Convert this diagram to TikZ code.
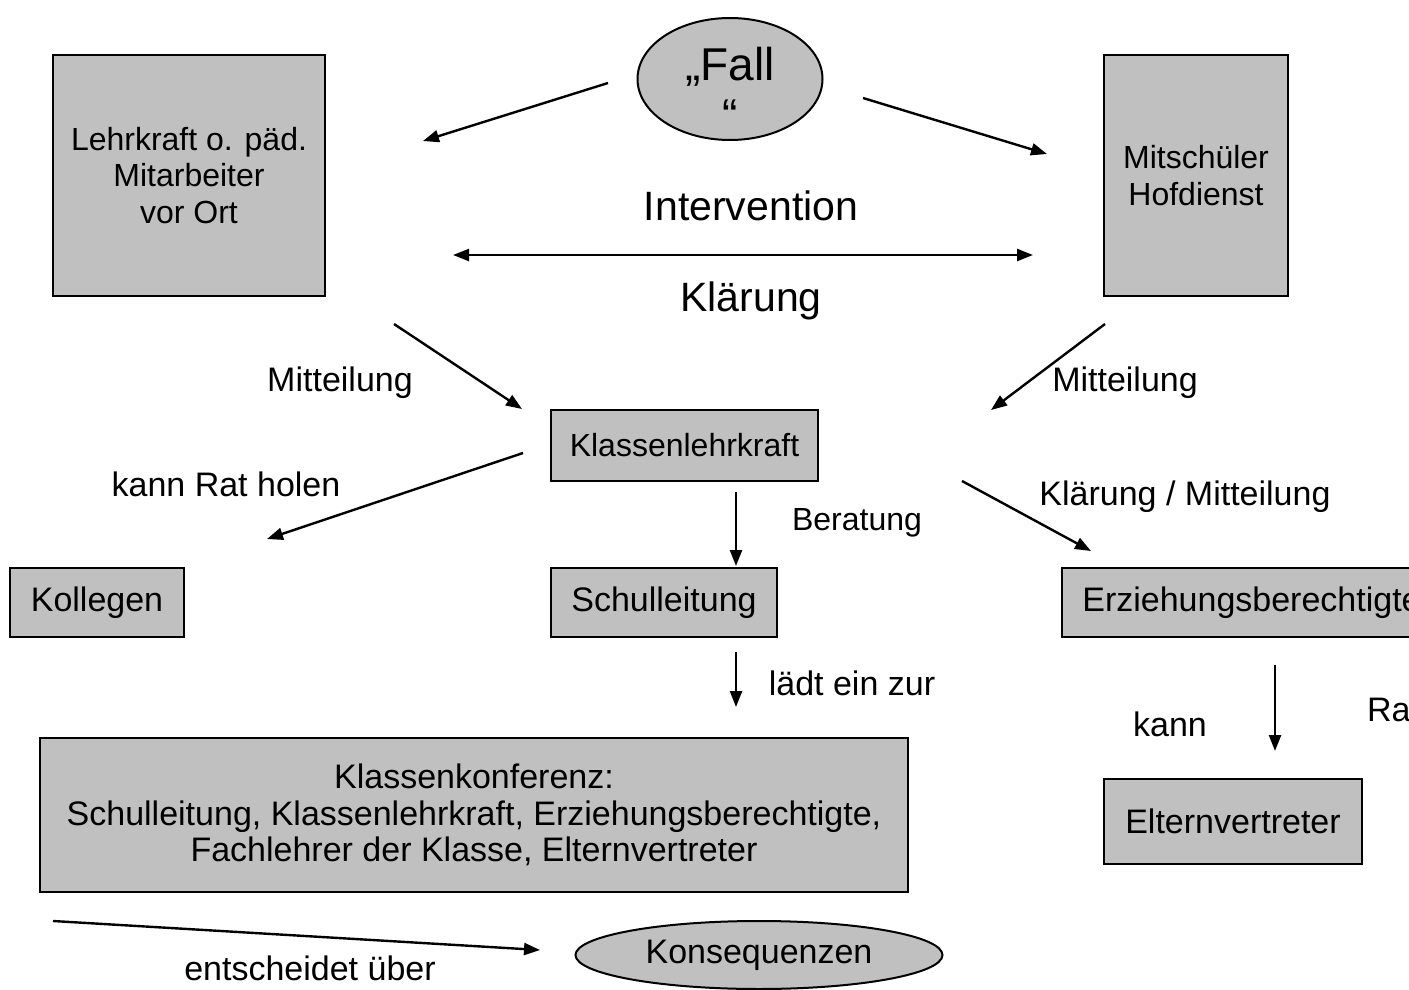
\documentclass[tikz,border=0pt]{standalone}
\usepackage{fontspec}
\setmainfont{Liberation Sans}
\usetikzlibrary{arrows.meta,shapes.geometric}
\definecolor{boxgray}{RGB}{192,192,192}

\begin{document}
\begin{tikzpicture}[x=0.5pt,y=-0.5pt,>={Triangle[length=8pt,width=6pt]},
  box/.style={rectangle,draw,fill=boxgray,line width=1pt,align=center,inner sep=0pt,font=\fontsize{17}{18.25}\selectfont},
  oval/.style={ellipse,draw,fill=boxgray,line width=1pt,inner sep=0pt,align=center,font=\fontsize{17}{18.25}\selectfont},
  txt/.style={font=\fontsize{17}{18.25}\selectfont},
  pfeil/.style={->,line width=1.2pt}]

  \useasboundingbox (0,0) rectangle (1409,990);
  \clip (0,0) rectangle (1409,990);

  \node[oval,minimum width=92.5pt,minimum height=61pt,inner ysep=-5pt,
    font=\fontsize{23}{25.5}\selectfont] (fall) at (730,79) {\rule{0pt}{27pt}„Fall\\“};
  \node[box,minimum width=136pt,minimum height=120.5pt,font=\fontsize{16}{18.25}\selectfont] (lehr) at (189,175.5) {Lehrkraft o. päd.\\Mitarbeiter\\vor Ort};
  \node[box,minimum width=92pt,minimum height=120.5pt,font=\fontsize{16}{18.25}\selectfont] (mit) at (1196,175.5) {Mitschüler\\Hofdienst};
  \node[box,minimum width=133.5pt,minimum height=35.5pt,font=\fontsize{16}{18.25}\selectfont] (kl) at (684.5,445.5) {Klassenlehrkraft};
  \node[box,minimum width=87pt,minimum height=34.5pt] (kol) at (97,602.5) {Kollegen};
  \node[box,minimum width=113pt,minimum height=34.5pt] (sl) at (664,602.5) {Schulleitung};
  \node[box,minimum width=189.5pt,minimum height=34.5pt] (erz) at (1251.5,602.5) {Erziehungsberechtigte};
  \node[box,minimum width=129pt,minimum height=42.5pt] (elt) at (1233,821.5) {Elternvertreter};
  \node[box,minimum width=434pt,minimum height=77pt] (kk) at (474,815) {Klassenkonferenz:\\Schulleitung, Klassenlehrkraft, Erziehungsberechtigte,\\Fachlehrer der Klasse, Elternvertreter};
  \node[oval,minimum width=183.5pt,minimum height=34pt] (kons) at (759,955) {Konsequenzen};

  \node[txt,font=\fontsize{20.5}{24}\selectfont] (interv) at (751,206) {Intervention};
  \node[txt,font=\fontsize{20.5}{24}\selectfont] (klaer) at (751,301) {Klärung};
  \node[txt] (mitt1) at (340,383) {Mitteilung};
  \node[txt] (mitt2) at (1125,383) {Mitteilung};
  \node[txt] (ratholen) at (226,484) {kann Rat holen};
  \node[txt,font=\fontsize{16}{18.25}\selectfont] (ber) at (857,523) {Beratung};
  \node[txt] (klmitt) at (1185,497) {Klärung / Mitteilung};
  \node[txt] (laedt) at (852,683) {lädt ein zur};
  \node[txt] (kann) at (1170,724) {kann};
  \node[txt,anchor=west] (rat) at (1360,710) {Rat};
  \node[txt] (entsch) at (310,968) {entscheidet über};

  \coordinate (f1) at (608,83);   \coordinate (f1e) at (423,141);
  \coordinate (f2) at (863,98);   \coordinate (f2e) at (1047,154);
  \coordinate (i1) at (453,255);  \coordinate (i2) at (1033,255);
  \coordinate (m1) at (394,324);  \coordinate (m1e) at (522,409);
  \coordinate (m2) at (1105,324); \coordinate (m2e) at (991,410);
  \coordinate (r1) at (523,453);  \coordinate (r1e) at (267,539);
  \coordinate (b1) at (736,492);  \coordinate (b1e) at (736,566);
  \coordinate (k1) at (962,481);  \coordinate (k1e) at (1091,551);
  \coordinate (l1) at (736,652);  \coordinate (l1e) at (736,707);
  \coordinate (e1) at (1275,665); \coordinate (e1e) at (1275,751);
  \coordinate (s1) at (53,921);   \coordinate (s1e) at (540,950);

  \path[pfeil]
    (f1) edge (f1e)
    (f2) edge (f2e)
    (i1) edge[<->] (i2)
    (m1) edge (m1e)
    (m2) edge (m2e)
    (r1) edge (r1e)
    (b1) edge (b1e)
    (k1) edge (k1e)
    (l1) edge (l1e)
    (e1) edge (e1e)
    (s1) edge (s1e);

\end{tikzpicture}
\end{document}
